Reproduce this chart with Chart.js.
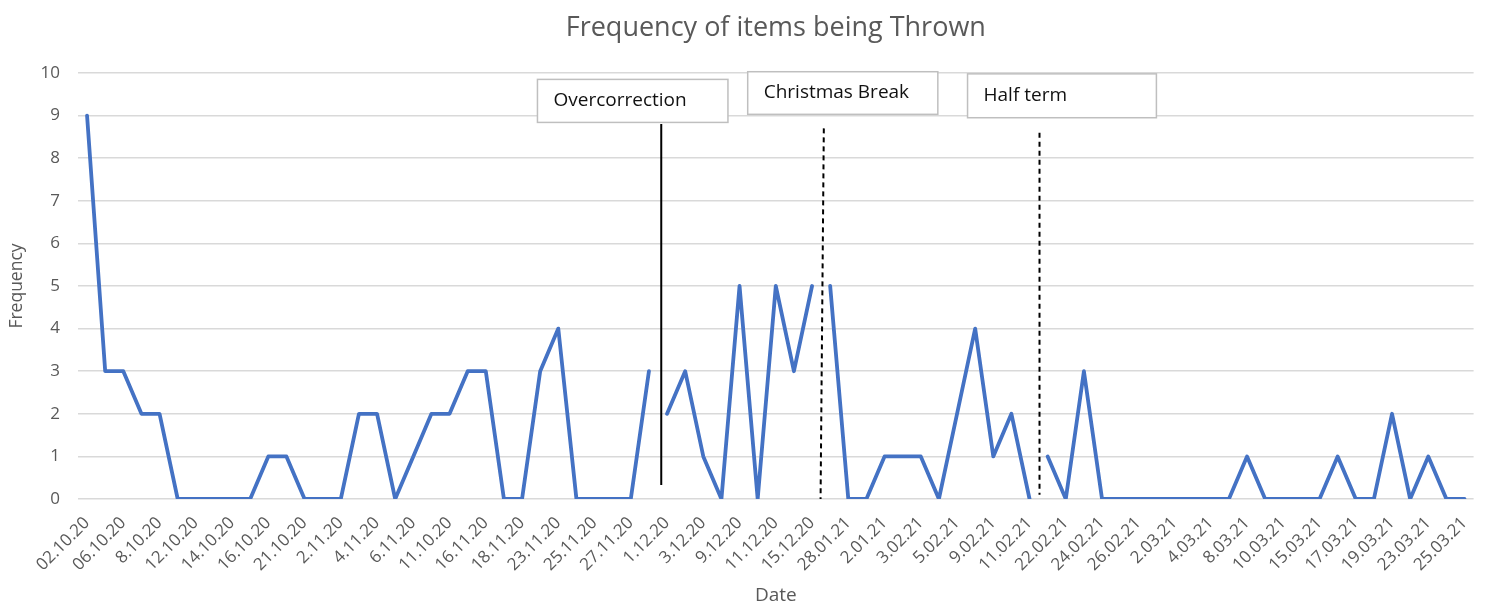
<!DOCTYPE html>
<html>
<head>
<meta charset="utf-8">
<script src="https://cdn.jsdelivr.net/npm/chart.js@4.4.0/dist/chart.umd.min.js"></script>
<style>
  body { margin: 0; background: #fff; }
</style>
</head>
<body>
<canvas id="throwChart" width="1485" height="607"></canvas>
<script>
// Dates of each lesson (only every other one is labelled on the axis)
const dates = [
    '02.10.20', '05.10.20', '06.10.20', '07.10.20', '8.10.20', '9.10.20', '12.10.20', '13.10.20',
    '14.10.20', '15.10.20', '16.10.20', '20.10.20', '21.10.20', '22.10.20', '2.11.20', '3.11.20',
    '4.11.20', '5.11.20', '6.11.20', '10.11.20', '11.10.20', '13.11.20', '16.11.20', '17.11.20',
    '18.11.20', '20.11.20', '23.11.20', '24.11.20', '25.11.20', '26.11.20', '27.11.20', '30.11.20',
    '1.12.20', '2.12.20', '3.12.20', '8.12.20', '9.12.20', '10.12.20', '11.12.20', '14.12.20',
    '15.12.20', '27.01.21', '28.01.21', '29.01.21', '2.01.21', '1.02.21', '3.02.21', '4.02.21',
    '5.02.21', '8.02.21', '9.02.21', '10.02.21', '11.02.21', '12.02.21', '22.02.21', '23.02.21',
    '24.02.21', '25.02.21', '26.02.21', '1.03.21', '2.03.21', '3.03.21', '4.03.21', '5.03.21',
    '8.03.21', '9.03.21', '10.03.21', '12.03.21', '15.03.21', '16.03.21', '17.03.21', '18.03.21',
    '19.03.21', '22.03.21', '23.03.21', '24.03.21', '25.03.21'
];

// Number of items thrown per lesson
const thrown = [
    9, 3, 3, 2, 2, 0, 0, 0, 0, 0, 1, 1, 0, 0, 0, 2,
    2, 0, 1, 2, 2, 3, 3, 0, 0, 3, 4, 0, 0, 0, 0, 3,
    2, 3, 1, 0, 5, 0, 5, 3, 5, 5, 0, 0, 1, 1, 1, 0,
    2, 4, 1, 2, 0, 1, 0, 3, 0, 0, 0, 0, 0, 0, 0, 0,
    1, 0, 0, 0, 0, 1, 0, 0, 2, 0, 1, 0, 0
];

// Line is broken after these points (start of each new period)
const breakAfter = [31, 40, 52];

// Event markers: position on the date axis, and value range of the line
const markers = [
    { xTop: 31.68, xBottom: 31.68, from: 0.33, to: 8.8, dash: [] },
    { xTop: 40.65, xBottom: 40.47, from: 0, to: 8.7, dash: [5, 4] },
    { xTop: 52.55, xBottom: 52.55, from: 0.1, to: 8.6, dash: [5, 4] }
];

// Text boxes for the events
const notes = [
    { text: 'Overcorrection', x0: 24.85, x1: 35.36, y0: 8.84, y1: 9.85 },
    { text: 'Christmas Break', x0: 36.45, x1: 46.94, y0: 9.03, y1: 10.03 },
    { text: 'Half term', x0: 48.58, x1: 59.0, y0: 8.95, y1: 9.98 }
];

const chartTitle = 'Frequency of items being Thrown';
const grey = '#595959';
const blue = '#4472C4';

// Title centred over the plot area, plus the event lines and boxes
const extrasPlugin = {
    id: 'extras',
    afterDraw(chart) {
        const ctx = chart.ctx;
        const xs = chart.scales.x;
        const ys = chart.scales.y;
        const area = chart.chartArea;
        ctx.save();

        ctx.fillStyle = grey;
        ctx.font = '27px "Open Sans"';
        ctx.textAlign = 'center';
        ctx.textBaseline = 'middle';
        ctx.fillText(chartTitle, (area.left + area.right) / 2, 28);

        ctx.strokeStyle = '#000';
        ctx.lineWidth = 2;
        markers.forEach(m => {
            ctx.setLineDash(m.dash);
            ctx.beginPath();
            ctx.moveTo(xs.getPixelForValue(m.xTop), ys.getPixelForValue(m.to));
            ctx.lineTo(xs.getPixelForValue(m.xBottom), ys.getPixelForValue(m.from));
            ctx.stroke();
        });
        ctx.setLineDash([]);

        ctx.font = '19px "Open Sans"';
        ctx.textAlign = 'left';
        notes.forEach(n => {
            const left = xs.getPixelForValue(n.x0);
            const right = xs.getPixelForValue(n.x1);
            const top = ys.getPixelForValue(n.y1);
            const bottom = ys.getPixelForValue(n.y0);
            ctx.fillStyle = '#fff';
            ctx.fillRect(left, top, right - left, bottom - top);
            ctx.strokeStyle = '#bfbfbf';
            ctx.lineWidth = 1.5;
            ctx.strokeRect(left, top, right - left, bottom - top);
            ctx.fillStyle = '#111';
            ctx.fillText(n.text, left + 16, (top + bottom) / 2);
        });
        ctx.restore();
    }
};

const ctx = document.getElementById('throwChart').getContext('2d');
const throwChart = new Chart(ctx, {
    type: 'line',
    data: {
        labels: dates,
        datasets: [{
            label: 'Frequency',
            data: thrown,
            borderColor: blue,
            borderWidth: 3.8,
            borderJoinStyle: 'round',
            borderCapStyle: 'round',
            pointRadius: 0,
            tension: 0,
            fill: false,
            segment: {
                borderColor: c => breakAfter.includes(c.p0DataIndex) ? 'rgba(0,0,0,0)' : blue
            }
        }]
    },
    options: {
        responsive: false,
        animation: false,
        layout: {
            padding: { top: 73, right: 7, left: 0, bottom: 0 }
        },
        plugins: {
            legend: { display: false },
            title: { display: false },
            tooltip: { enabled: false }
        },
        scales: {
            x: {
                offset: true,
                grid: { display: false },
                border: { display: false },
                ticks: {
                    autoSkip: false,
                    maxRotation: 45,
                    minRotation: 45,
                    color: grey,
                    font: { family: 'Open Sans', size: 17 },
                    padding: 6,
                    callback: function(value, index) {
                        return index % 2 === 0 ? dates[index] : null;
                    }
                },
                title: {
                    display: true,
                    text: 'Date',
                    color: grey,
                    font: { family: 'Open Sans', size: 19 },
                    padding: 0
                },
                afterFit: scale => { scale.height = 108; }
            },
            y: {
                min: 0,
                max: 10,
                grid: { color: '#d9d9d9', lineWidth: 1.5, drawTicks: false },
                border: { display: false },
                ticks: {
                    stepSize: 1,
                    color: grey,
                    font: { family: 'Open Sans', size: 17 },
                    padding: 18
                },
                title: {
                    display: true,
                    text: 'Frequency',
                    color: grey,
                    font: { family: 'Open Sans', size: 17.5 },
                    padding: 7
                },
                afterFit: scale => { scale.width = 78; }
            }
        }
    },
    plugins: [extrasPlugin]
});
</script>
</body>
</html>
